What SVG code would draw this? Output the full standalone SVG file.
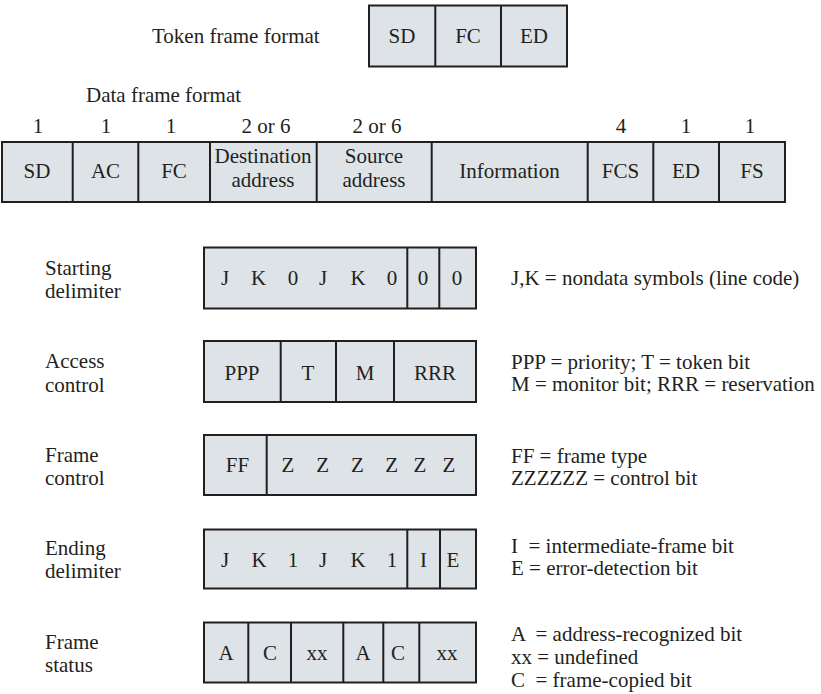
<svg xmlns="http://www.w3.org/2000/svg" width="821" height="694" viewBox="0 0 821 694">
<style>
text{font-family:'Liberation Serif',Tinos,'Times New Roman','Noto Serif','DejaVu Serif',serif;font-size:21px;fill:#231f20;white-space:pre}
.c{text-anchor:middle}
.box{fill:#dde3e7;stroke:#231f20;stroke-width:2}
.div{stroke:#231f20;stroke-width:2;fill:none}
</style>
<rect width="821" height="694" fill="#ffffff"/>
<g font-family="Liberation Serif, serif">
<g id="token-frame">
<text x="152" y="43">Token frame format</text>
<rect class="box" x="369" y="5.5" width="198" height="61"/>
<path class="div" d="M435.3 5.5V66.5M501 5.5V66.5"/>
<text class="c" x="402" y="43">SD</text>
<text class="c" x="468" y="43">FC</text>
<text class="c" x="534" y="43">ED</text>
</g>

<g id="data-frame">
<text x="86" y="102">Data frame format</text>
<text class="c" x="38" y="133">1</text>
<text class="c" x="106" y="133">1</text>
<text class="c" x="171" y="133">1</text>
<text class="c" x="266" y="133">2 or 6</text>
<text class="c" x="377" y="133">2 or 6</text>
<text class="c" x="621" y="133">4</text>
<text class="c" x="686" y="133">1</text>
<text class="c" x="750" y="133">1</text>
<rect class="box" x="2" y="142" width="783" height="60"/>
<path class="div" d="M72.7 142V202M138.3 142V202M210 142V202M316.7 142V202M431.7 142V202M587.7 142V202M653.3 142V202M719 142V202"/>
<text class="c" x="37" y="178">SD</text>
<text class="c" x="105.5" y="178">AC</text>
<text class="c" x="174" y="178">FC</text>
<text class="c" x="263" y="163">Destination</text>
<text class="c" x="263" y="187">address</text>
<text class="c" x="374" y="163">Source</text>
<text class="c" x="374" y="187">address</text>
<text class="c" x="509.5" y="178">Information</text>
<text class="c" x="620.5" y="178">FCS</text>
<text class="c" x="686" y="178">ED</text>
<text class="c" x="752" y="178">FS</text>
</g>

<g id="starting-delimiter">
<text x="45" y="275">Starting</text>
<text x="45" y="298">delimiter</text>
<rect class="box" x="204" y="247.5" width="272" height="61"/>
<path class="div" d="M407.3 247.5V308.5M439.3 247.5V308.5"/>
<text class="c" x="225" y="285">J</text>
<text class="c" x="258.5" y="285">K</text>
<text class="c" x="293" y="285">0</text>
<text class="c" x="323" y="285">J</text>
<text class="c" x="358" y="285">K</text>
<text class="c" x="392" y="285">0</text>
<text class="c" x="423" y="285">0</text>
<text class="c" x="457" y="285">0</text>
<text x="511" y="285">J,K = nondata symbols (line code)</text>
</g>

<g id="access-control">
<text x="45" y="368">Access</text>
<text x="45" y="392">control</text>
<rect class="box" x="204" y="341" width="272" height="61"/>
<path class="div" d="M280.7 341V402M336 341V402M394 341V402"/>
<text class="c" x="242" y="380">PPP</text>
<text class="c" x="308" y="380">T</text>
<text class="c" x="365" y="380">M</text>
<text class="c" x="435" y="380">RRR</text>
<text x="511" y="369">PPP = priority; T = token bit</text>
<text x="511" y="391">M = monitor bit; RRR = reservation</text>
</g>

<g id="frame-control">
<text x="45" y="462">Frame</text>
<text x="45" y="485">control</text>
<rect class="box" x="204" y="435" width="272" height="60"/>
<path class="div" d="M266.7 435V495"/>
<text class="c" x="237.5" y="472">FF</text>
<text class="c" x="288" y="472">Z</text>
<text class="c" x="322.7" y="472">Z</text>
<text class="c" x="357.3" y="472">Z</text>
<text class="c" x="391.7" y="472">Z</text>
<text class="c" x="420" y="472">Z</text>
<text class="c" x="449" y="472">Z</text>
<text x="511" y="463">FF = frame type</text>
<text x="511" y="485">ZZZZZZ = control bit</text>
</g>

<g id="ending-delimiter">
<text x="45" y="555">Ending</text>
<text x="45" y="578">delimiter</text>
<rect class="box" x="204" y="529.5" width="272" height="59"/>
<path class="div" d="M407.3 529.5V588.5M440 529.5V588.5"/>
<text class="c" x="225" y="567">J</text>
<text class="c" x="259" y="567">K</text>
<text class="c" x="293" y="567">1</text>
<text class="c" x="323" y="567">J</text>
<text class="c" x="358" y="567">K</text>
<text class="c" x="392" y="567">1</text>
<text class="c" x="423.5" y="567">I</text>
<text class="c" x="453" y="567">E</text>
<text x="511" y="553">I  = intermediate-frame bit</text>
<text x="511" y="575">E = error-detection bit</text>
</g>

<g id="frame-status">
<text x="45" y="649">Frame</text>
<text x="45" y="672">status</text>
<rect class="box" x="204" y="622.5" width="272" height="60"/>
<path class="div" d="M248.3 622.5V682.5M291 622.5V682.5M343.3 622.5V682.5M383.3 622.5V682.5M419.3 622.5V682.5"/>
<text class="c" x="226" y="660">A</text>
<text class="c" x="270" y="660">C</text>
<text class="c" x="317" y="660">xx</text>
<text class="c" x="363" y="660">A</text>
<text class="c" x="398" y="660">C</text>
<text class="c" x="447" y="660">xx</text>
<text x="511" y="641">A  = address-recognized bit</text>
<text x="511" y="664">xx = undefined</text>
<text x="511" y="687">C  = frame-copied bit</text>
</g>
</g>
<g id="connectors"></g>
</svg>
